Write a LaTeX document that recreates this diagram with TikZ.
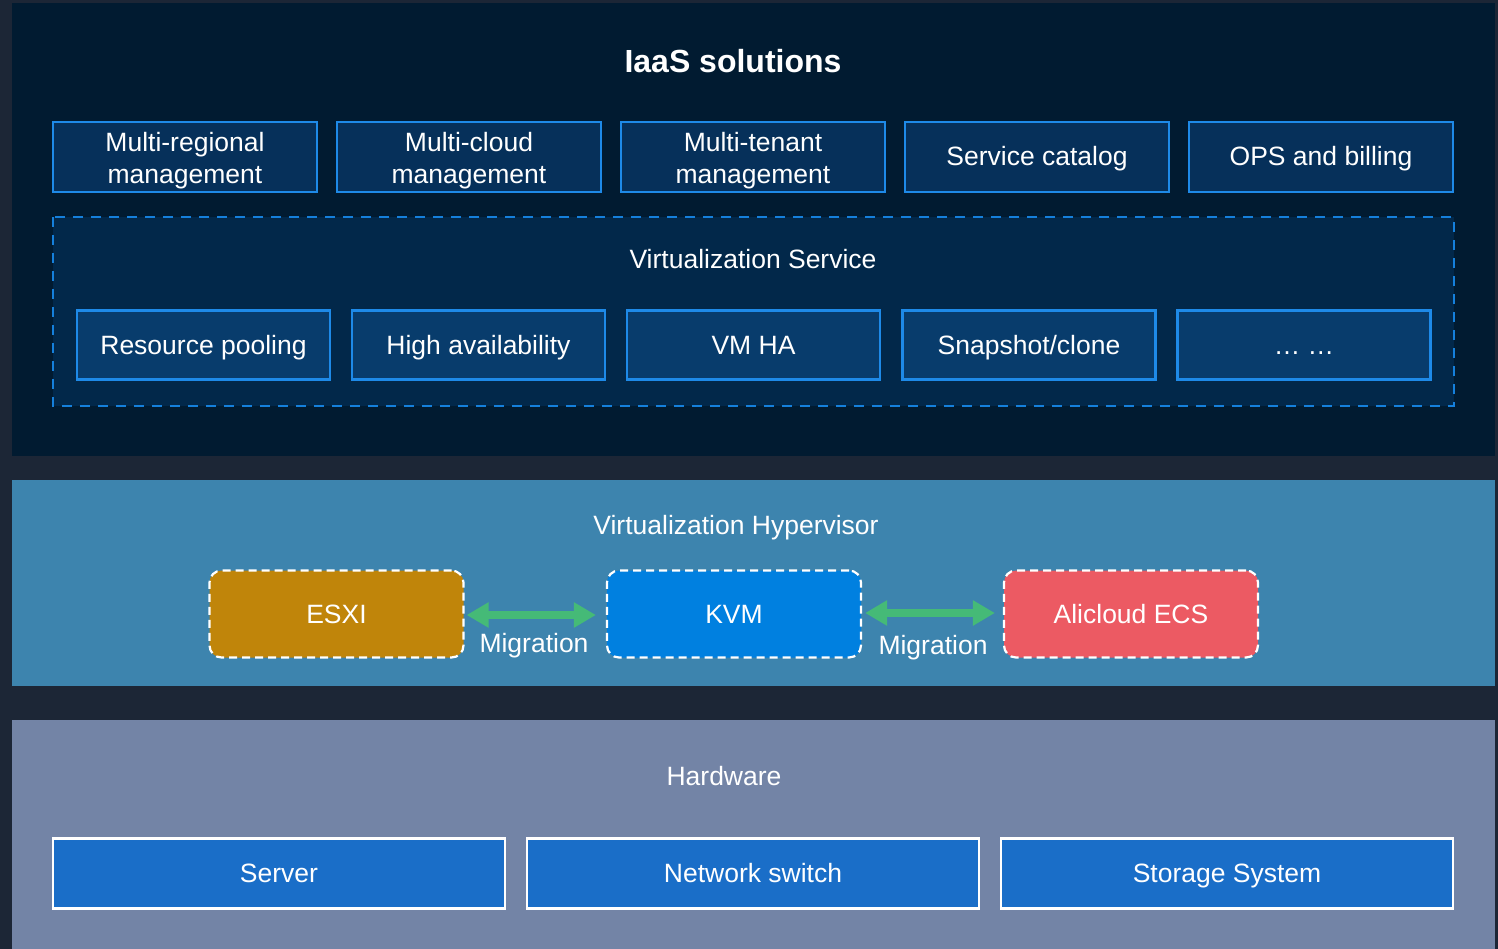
\documentclass[tikz,border=0pt]{standalone}
\usepackage{fontspec}
\setmainfont{Liberation Sans}
\usetikzlibrary{arrows.meta}
\definecolor{bgc}{HTML}{1C2636}
\definecolor{topc}{HTML}{011B31}
\definecolor{midc}{HTML}{3D84AE}
\definecolor{lowc}{HTML}{7384A6}
\definecolor{topbox}{HTML}{06305A}
\definecolor{topline}{HTML}{1E8AE8}
\definecolor{dashfill}{HTML}{02284A}
\definecolor{dashline}{HTML}{1580DC}
\definecolor{innerbox}{HTML}{083C6C}
\definecolor{esxic}{HTML}{C0850A}
\definecolor{kvmc}{HTML}{0080E0}
\definecolor{alic}{HTML}{EC5A63}
\definecolor{hwc}{HTML}{1A6EC8}
\definecolor{arrc}{HTML}{45BA77}
\tikzset{
  txt/.style={text=white, font=\fontsize{26.5}{32}\selectfont, align=center, inner sep=0pt, text height=20pt, text depth=2pt},
  twoline/.style={text height=56pt, text depth=2pt},
  topbx/.style={draw=topline, line width=2.5pt, fill=topbox, txt, minimum width=264pt, minimum height=70pt},
  innbx/.style={draw=topline, line width=2.5pt, fill=innerbox, txt, minimum width=253pt, minimum height=69pt},
  hvbx/.style={draw=white, dashed, dash pattern=on 8pt off 5pt, line width=2.2pt, rounded corners=12pt, txt, minimum width=254pt, minimum height=87pt},
  hwbx/.style={draw=white, line width=2.5pt, fill=hwc, txt, minimum width=452pt, minimum height=70pt},
  migr/.style={arrc, line width=8pt, {Triangle[length=22pt,width=24pt]}-{Triangle[length=22pt,width=24pt]}},
  lbl/.style={txt}
}
\begin{document}
\begin{tikzpicture}[x=1pt,y=-1pt]
\fill[bgc] (0,0) rectangle (1498,949);
\useasboundingbox (0,0) rectangle (1498,949);
\fill[topc] (12,3) rectangle (1495,456);
\fill[midc] (12,480) rectangle (1495,686);
\fill[lowc] (12,720) rectangle (1495,949);

\node[txt, font=\fontsize{32}{36}\selectfont\bfseries, text height=23pt, text depth=0pt] (title) at (733,61) {IaaS solutions};

\node[topbx, twoline] (t1) at (185,157) {Multi-regional\\management};
\node[topbx, twoline] (t2) at (469,157) {Multi-cloud\\management};
\node[topbx, twoline] (t3) at (753,157) {Multi-tenant\\management};
\node[topbx] (t4) at (1037,157) {Service catalog};
\node[topbx] (t5) at (1321,157) {OPS and billing};

\draw[dashline, fill=dashfill, line width=2.5pt, dash pattern=on 10pt off 8pt] (53,217) rectangle (1454,406);
\node[txt] (vs) at (753,260) {Virtualization Service};

\node[innbx] (i1) at (203.5,345) {Resource pooling};
\node[innbx] (i2) at (478.5,345) {High availability};
\node[innbx] (i3) at (753.5,345) {VM HA};
\node[innbx] (i4) at (1029,345) {Snapshot/clone};
\node[innbx] (i5) at (1304,345) {… …};

\node[txt] (vh) at (736,525) {Virtualization Hypervisor};
\node[hvbx, fill=esxic] (esxi) at (336.5,614) {ESXI};
\node[hvbx, fill=kvmc] (kvm) at (734,614) {KVM};
\node[hvbx, fill=alic] (ali) at (1131,614) {Alicloud ECS};

\draw[migr] ([xshift=2pt,yshift=-1pt]esxi.east) -- ([xshift=-10pt,yshift=-1pt]kvm.west);
\draw[migr] ([xshift=3pt,yshift=1pt]kvm.east) -- ([xshift=-8pt,yshift=1pt]ali.west);
\node[lbl] (m1) at (534,643) {Migration};
\node[lbl] (m2) at (933,645) {Migration};

\node[txt] (hw) at (724,776) {Hardware};
\node[hwbx] (s1) at (279,873.5) {Server};
\node[hwbx] (s2) at (753,873.5) {Network switch};
\node[hwbx] (s3) at (1227,873.5) {Storage System};
\end{tikzpicture}
\end{document}
